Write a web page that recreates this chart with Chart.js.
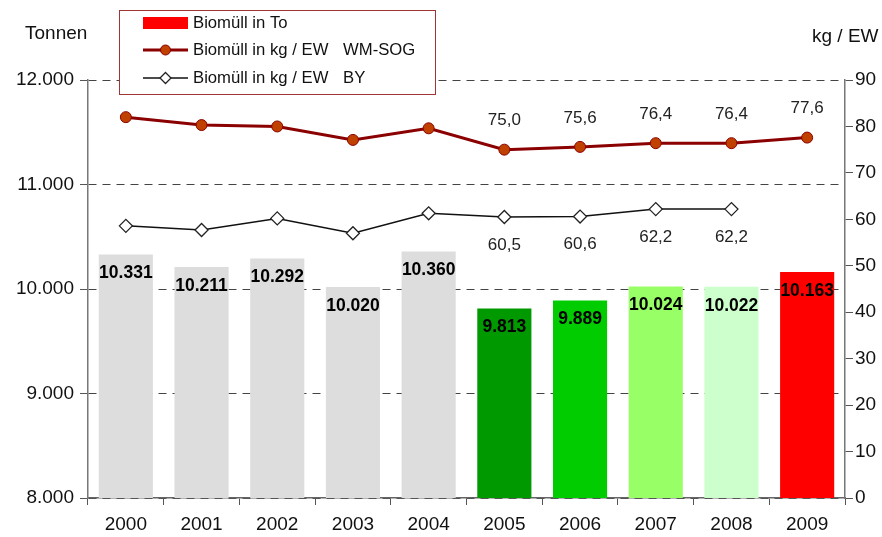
<!DOCTYPE html>
<html>
<head>
<meta charset="utf-8">
<script src="https://cdn.jsdelivr.net/npm/chart.js@4"></script>
<style>
html,body{margin:0;padding:0;background:#fff;}
#wrap{width:882px;height:537px;position:relative;}
</style>
</head>
<body>
<div id="wrap"><canvas id="c" width="882" height="537"></canvas></div>
<script>
const years = ['2000','2001','2002','2003','2004','2005','2006','2007','2008','2009'];
const biomuellTonnen = [10331, 10211, 10292, 10020, 10360, 9813, 9889, 10024, 10022, 10163];
const kgEwWmSog = [82.0, 80.3, 80.0, 77.1, 79.6, 75.0, 75.6, 76.4, 76.4, 77.6];
const kgEwBY = [58.6, 57.7, 60.2, 57.0, 61.3, 60.5, 60.6, 62.2, 62.2, null];
const barColors = ['#DDDDDD','#DDDDDD','#DDDDDD','#DDDDDD','#DDDDDD','#009900','#00CC00','#99FF66','#CCFFCC','#FF0000'];
const wmSogLabelFrom = 5;   // labels shown for 2005..2009
const byLabelFrom = 5;      // labels shown for 2005..2008
const leftTicks = {min: 8000, max: 12000, step: 1000};
const rightTicks = {min: 0, max: 90, step: 10};

const FONT = "'Liberation Sans', Arial, sans-serif";

function fmtThousands(v) {
  const s = Math.round(v).toString();
  return s.replace(/\B(?=(\d{3})+(?!\d))/g, '.');
}
function fmtDec(v) { return v.toFixed(1).replace('.', ','); }

const overlay = {
  id: 'overlay',
  afterDatasetsDraw(chart) {
    const ctx = chart.ctx;
    ctx.save();
    // bar labels
    const barMeta = chart.getDatasetMeta(0);
    ctx.font = 'bold 17.5px ' + FONT;
    ctx.fillStyle = '#000';
    ctx.textAlign = 'center';
    ctx.textBaseline = 'middle';
    barMeta.data.forEach((el, i) => {
      ctx.fillText(fmtThousands(biomuellTonnen[i]), el.x, el.y + 19);
    });
    // line labels
    ctx.font = '17px ' + FONT;
    ctx.fillStyle = '#222';
    const m1 = chart.getDatasetMeta(1);
    m1.data.forEach((el, i) => {
      if (i >= wmSogLabelFrom && kgEwWmSog[i] != null) ctx.fillText(fmtDec(kgEwWmSog[i]), el.x, el.y - 29);
    });
    const m2 = chart.getDatasetMeta(2);
    m2.data.forEach((el, i) => {
      if (i >= byLabelFrom && kgEwBY[i] != null) ctx.fillText(fmtDec(kgEwBY[i]), el.x, el.y + 28);
    });
    ctx.restore();
  },
  afterDraw(chart) {
    const ctx = chart.ctx;
    ctx.save();
    // axis titles
    ctx.font = '19px ' + FONT;
    ctx.fillStyle = '#111';
    ctx.textBaseline = 'middle';
    ctx.textAlign = 'left';
    ctx.fillText('Tonnen', 25, 34);
    ctx.fillText('kg / EW', 812, 37);
    // legend box
    const bx = 119, by = 10, bw = 316, bh = 84;
    ctx.fillStyle = '#fff';
    ctx.fillRect(bx, by, bw, bh);
    ctx.strokeStyle = '#A03535';
    ctx.lineWidth = 1;
    ctx.strokeRect(bx + 0.5, by + 0.5, bw, bh);
    ctx.font = '16.7px ' + FONT;
    const rows = [23, 50, 78];
    // row 1: bar swatch
    ctx.fillStyle = '#FF0000';
    ctx.fillRect(143, rows[0] - 6, 45, 12);
    ctx.fillStyle = '#111';
    ctx.fillText('Biomüll in To', 193, rows[0]);
    // row 2: line with circle
    ctx.strokeStyle = '#8B0000';
    ctx.lineWidth = 3;
    ctx.beginPath(); ctx.moveTo(143, rows[1]); ctx.lineTo(188, rows[1]); ctx.stroke();
    ctx.beginPath(); ctx.arc(165.5, rows[1], 5, 0, Math.PI * 2);
    ctx.fillStyle = '#C04000'; ctx.fill();
    ctx.lineWidth = 1; ctx.strokeStyle = '#8B0000'; ctx.stroke();
    ctx.fillStyle = '#111';
    ctx.fillText('Biomüll in kg / EW', 193, rows[1]);
    ctx.fillText('WM-SOG', 343, rows[1]);
    // row 3: line with diamond
    ctx.strokeStyle = '#111';
    ctx.lineWidth = 1.5;
    ctx.beginPath(); ctx.moveTo(143, rows[2]); ctx.lineTo(188, rows[2]); ctx.stroke();
    ctx.beginPath();
    ctx.moveTo(165.5, rows[2] - 5.5); ctx.lineTo(171, rows[2]); ctx.lineTo(165.5, rows[2] + 5.5); ctx.lineTo(160, rows[2]); ctx.closePath();
    ctx.fillStyle = '#fff'; ctx.fill(); ctx.lineWidth = 1.3; ctx.strokeStyle = '#222'; ctx.stroke();
    ctx.fillStyle = '#111';
    ctx.fillText('Biomüll in kg / EW', 193, rows[2]);
    ctx.fillText('BY', 343, rows[2]);
    ctx.restore();
  }
};

new Chart(document.getElementById('c'), {
  data: {
    labels: years,
    datasets: [
      {
        type: 'bar', label: 'Biomüll in To', data: biomuellTonnen,
        backgroundColor: barColors, borderWidth: 0,
        categoryPercentage: 1, barPercentage: 0.715,
        yAxisID: 'y', order: 3
      },
      {
        type: 'line', label: 'Biomüll in kg / EW   WM-SOG', data: kgEwWmSog,
        borderColor: '#8B0000', borderWidth: 3,
        pointBackgroundColor: '#C04000', pointBorderColor: '#8B0000', pointBorderWidth: 1,
        pointRadius: 5.5, pointStyle: 'circle', tension: 0,
        yAxisID: 'y2', order: 1
      },
      {
        type: 'line', label: 'Biomüll in kg / EW   BY', data: kgEwBY,
        borderColor: '#111', borderWidth: 1.5,
        pointBackgroundColor: '#fff', pointBorderColor: '#222', pointBorderWidth: 1.3,
        pointRadius: 6.5, pointStyle: 'rectRot', tension: 0, spanGaps: false,
        yAxisID: 'y2', order: 2
      }
    ]
  },
  options: {
    responsive: false,
    animation: false,
    layout: {padding: {top: 80, left: 0, right: 0, bottom: 0}},
    plugins: {legend: {display: false}, tooltip: {enabled: false}},
    scales: {
      x: {
        offset: true,
        afterFit(s) { s.height = 39; },
        grid: {display: true, drawOnChartArea: false, drawTicks: true, tickLength: 7, color: '#555', offset: true},
        border: {display: true, color: '#666', width: 1.5},
        ticks: {color: '#111', font: {family: FONT, size: 19}, padding: 8, maxRotation: 0}
      },
      y: {
        position: 'left',
        min: leftTicks.min, max: leftTicks.max,
        afterFit(s) { s.width = 88; },
        afterBuildTicks(s) {
          const t = [];
          for (let v = leftTicks.min; v <= leftTicks.max; v += leftTicks.step) t.push({value: v});
          s.ticks = t;
        },
        grid: {display: true, drawOnChartArea: true, drawTicks: true, tickLength: 8, color: '#444', lineWidth: 1, tickColor: '#555'},
        border: {display: true, color: '#777', width: 1.5, dash: [8, 6]},
        ticks: {color: '#111', font: {family: FONT, size: 19}, padding: 6, callback: v => fmtThousands(v)}
      },
      y2: {
        position: 'right',
        min: rightTicks.min, max: rightTicks.max,
        afterFit(s) { s.width = 37; },
        afterBuildTicks(s) {
          const t = [];
          for (let v = rightTicks.min; v <= rightTicks.max; v += rightTicks.step) t.push({value: v});
          s.ticks = t;
        },
        grid: {display: true, drawOnChartArea: false, drawTicks: true, tickLength: 8, color: '#555'},
        border: {display: true, color: '#777', width: 1.5},
        ticks: {color: '#111', font: {family: FONT, size: 19}, padding: 2, callback: v => String(v)}
      }
    }
  },
  plugins: [overlay]
});
</script>
</body>
</html>
